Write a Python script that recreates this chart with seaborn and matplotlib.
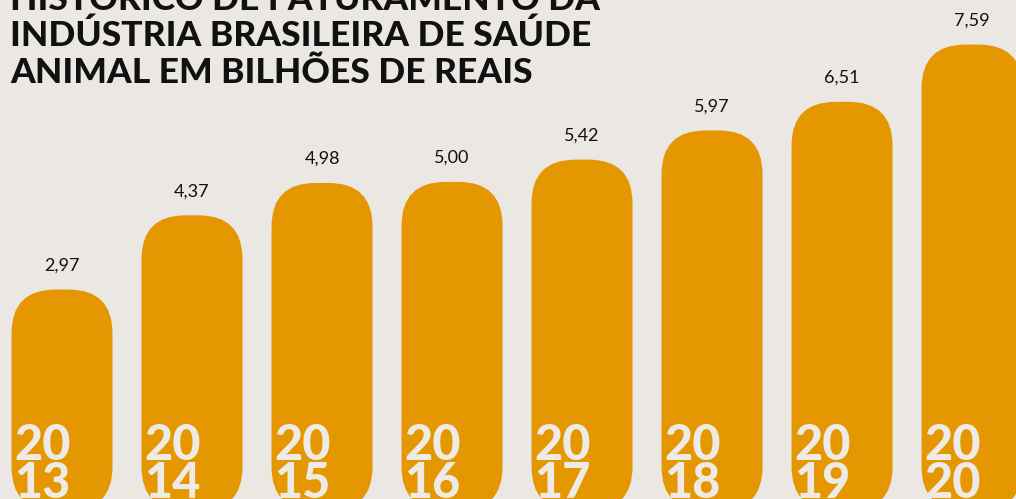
import numpy as np
import pandas as pd
import seaborn as sns
import matplotlib.pyplot as plt
from matplotlib.patches import FancyBboxPatch

# data
anos = ['2013', '2014', '2015', '2016', '2017', '2018', '2019', '2020']
faturamento = [2.97, 4.37, 4.98, 5.00, 5.42, 5.97, 6.51, 7.59]
rotulos = ['2,97', '4,37', '4,98', '5,00', '5,42', '5,97', '6,51', '7,59']
titulo = ['HISTÓRICO DE FATURAMENTO DA',
          'INDÚSTRIA BRASILEIRA DE SAÚDE',
          'ANIMAL EM BILHÕES DE REAIS']

BG = '#ebe8e4'
LARANJA = '#e49700'
W, H = 1016, 499

sns.set_theme(style='white')
plt.rcParams['font.family'] = ['Lato', 'DejaVu Sans']

df = pd.DataFrame({'ano': anos, 'valor': faturamento})

fig = plt.figure(figsize=(W / 100, H / 100), dpi=100)
fig.patch.set_facecolor(BG)
ax = fig.add_axes([0, 0, 1, 1])
ax.set_facecolor(BG)

sns.barplot(data=df, x='ano', y='valor', color=LARANJA, width=0.777,
            saturation=1, ax=ax)

ax.set_xlim(-0.477, 7.338)
ax.set_ylim(-0.98, 8.43)
ax.axis('off')

# px -> data scale, to keep the corners round
px_x = (7.338 + 0.477) / W
px_y = (8.43 + 0.98) / H
base = -1.2
raio = 44 * px_x

for p in list(ax.patches):
    x, w, top = p.get_x(), p.get_width(), p.get_height()
    p.remove()
    box = FancyBboxPatch((x + raio, base + raio * px_y / px_x),
                         w - 2 * raio, top - base - 2 * raio * px_y / px_x,
                         boxstyle=f'round,pad={raio},rounding_size={raio}',
                         mutation_aspect=px_y / px_x,
                         facecolor=LARANJA, edgecolor='none', zorder=2)
    ax.add_patch(box)

for i, (v, r, a) in enumerate(zip(faturamento, rotulos, anos)):
    ax.text(i, v + 24 * px_y, r, ha='center', va='center',
            fontsize=13, color='#111111')
    left = i - 0.777 / 2 + 3 * px_x
    ax.text(left, -0.98 + 1 * px_y, a[:2] + '\n' + a[2:], ha='left',
            va='baseline', linespacing=0.82, fontsize=35, fontweight='black',
            color='#eeeae6', zorder=3)

for linha, base_px in zip(titulo, [10, 46, 83]):
    fig.text(10 / W, 1 - base_px / H, linha, ha='left', va='baseline',
             fontsize=25.5, fontweight='black', color='#111111')

fig.savefig('out.png', dpi=100, facecolor=BG)
